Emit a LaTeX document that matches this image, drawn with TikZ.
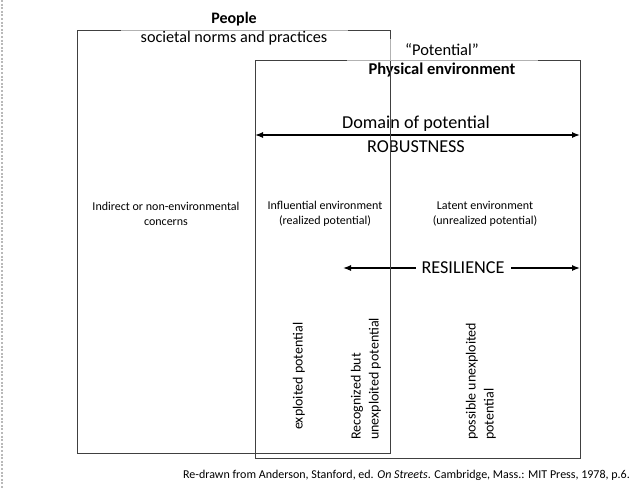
\documentclass[tikz,border=0pt]{standalone}
\usepackage{fontspec}
\setmainfont{Carlito}
\usetikzlibrary{arrows.meta}
\begin{document}
\begin{tikzpicture}[x=1pt,y=-1pt,
  framebox/.style={draw=black!75, line width=0.8pt, minimum width=#1, anchor=north west, inner sep=0pt},
  dblarrow/.style={{Latex[length=8pt,width=6pt]}-{Latex[length=8pt,width=6pt]}, line width=1.3pt},
  smalltxt/.style={font=\fontsize{12}{15}\selectfont, align=center, inner sep=0pt},
  vtxt/.style={font=\fontsize{14}{18}\selectfont, rotate=90, anchor=west, align=left, inner sep=0pt},
  bigtxt/.style={font=\fontsize{18.2}{20}\selectfont, inner sep=1pt}
]
\useasboundingbox (0,0) rectangle (640,488);
% dotted margin line
\draw[gray!55, line width=1.3pt, dash pattern=on 2pt off 1.6pt] (2,0) -- (2,488);

% physical environment box
\node[framebox=325pt, minimum height=398pt] (phys) at (255,60) {};

% arrows
\coordinate (dl) at (255,135);
\coordinate (dr) at (580,135);
\draw[dblarrow] (dl) -- (dr);
\coordinate (rl) at (343,268);
\coordinate (rr) at (580,268);
\draw[dblarrow] (rl) -- (rr);

% texts
\node[bigtxt] (domain) at (416,124) {Domain of potential};
\node[bigtxt, fill=white, inner xsep=1pt] (robust) at (416,147) {ROBUSTNESS};
\node[bigtxt, fill=white, inner xsep=6pt] (resil) at (463,268) {RESILIENCE};

\node[font=\fontsize{16.5}{18}\selectfont\bfseries, inner sep=0pt] (physlabel) at (442,70) {Physical environment};

\node[smalltxt] (indirect) at (166,214) {Indirect or non-environmental\\concerns};
\node[smalltxt] (influ) at (325,214) {Influential environment\\(realized potential)};
\node[smalltxt] (latent) at (485,214) {Latent environment\\(unrealized potential)};

\node[vtxt] (exploit) at (299,430) {exploited potential};
\node[vtxt] (recog) at (366,440) {Recognized but\\unexploited potential};
\node[vtxt] (possible) at (481,440) {possible unexploited\\potential};

% people box on top
\node[framebox=313pt, minimum height=423pt] (people) at (77,30) {};
\node[font=\fontsize{16}{18}\selectfont\bfseries, inner sep=0pt] (peoplelabel) at (234,19) {People};
\node[font=\fontsize{16.2}{18}\selectfont, fill=white, fill opacity=0.6, text opacity=1, minimum width=227pt, minimum height=20pt, inner sep=0pt] (norms) at (234,38) {societal norms and practices};
\node[font=\fontsize{16.5}{18}\selectfont, fill=white, fill opacity=0.6, text opacity=1, minimum width=191pt, minimum height=22pt, inner sep=0pt] (potential) at (442,50) {“Potential”};

% footer
\node[font=\fontsize{12}{14}\selectfont, anchor=east, inner sep=0pt] (footer) at (630,475) {Re-drawn from Anderson, Stanford, ed. \textit{On Streets}. Cambridge, Mass.: MIT Press, 1978, p.6.};
\end{tikzpicture}
\end{document}
